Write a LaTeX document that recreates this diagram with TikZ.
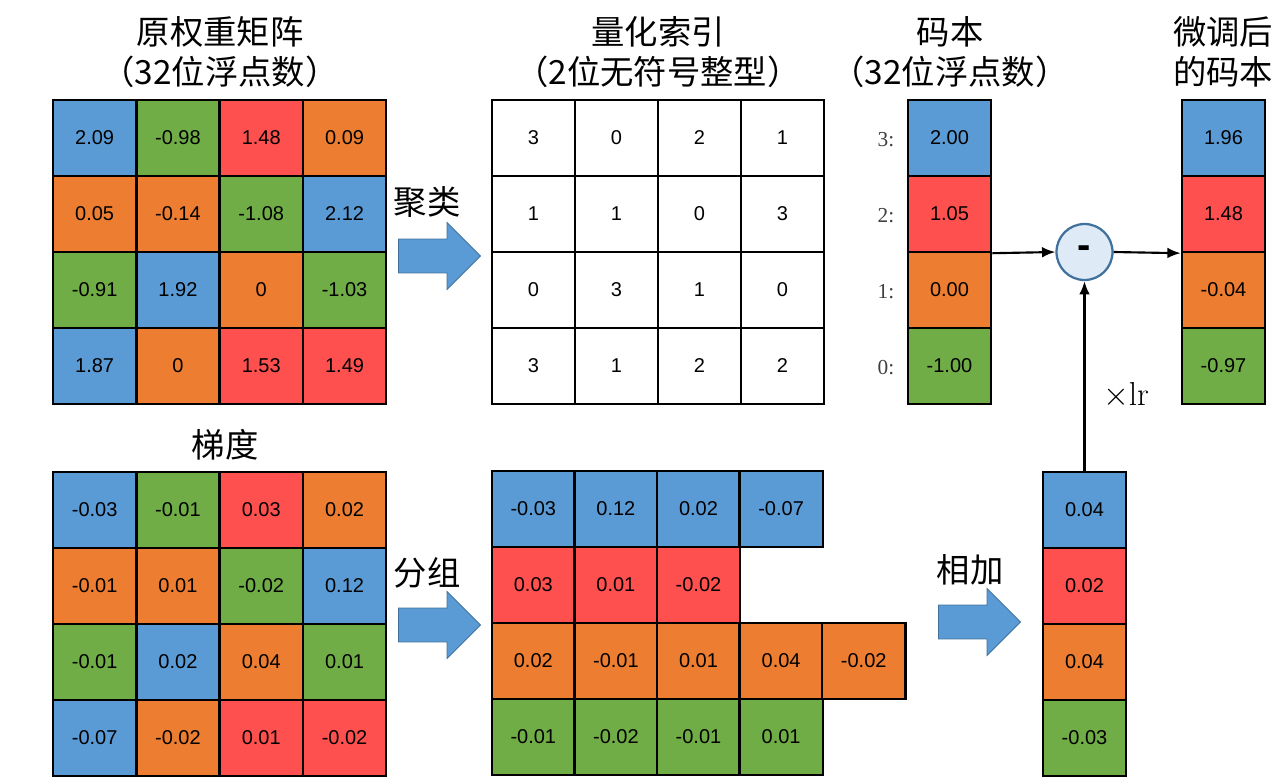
\documentclass[tikz,border=0pt]{standalone}
\usepackage[no-math]{fontspec}
\usepackage{tikz}
\setmainfont{Liberation Sans}
\newfontfamily\cjk{Noto Sans CJK SC}
\newfontfamily\idxfont{Liberation Serif}
\usetikzlibrary{arrows.meta,shapes.arrows}
\definecolor{cb}{HTML}{5B9BD5}
\definecolor{cg}{HTML}{70AD47}
\definecolor{cr}{HTML}{FF5050}
\definecolor{co}{HTML}{ED7D31}
\definecolor{edge}{HTML}{41719C}
\definecolor{opfill}{HTML}{DEEBF7}
\tikzset{
	cell/.style={draw=black, line width=1.8pt, minimum width=62.4pt, minimum height=57pt, inner sep=0pt, font=\fontsize{15}{15}\selectfont},
	title/.style={font=\cjk\fontsize{25}{30}\selectfont, inner sep=0pt},
	idx/.style={font=\idxfont\fontsize{16}{16}\selectfont, text=black!75, inner sep=0pt},
	blockarrow/.style={single arrow, draw=edge, fill=cb, line width=0.6pt, minimum height=61.5pt, minimum width=0pt, single arrow head extend=12.4pt, inner xsep=0pt, inner ysep=12.4pt},
	op/.style={circle, draw=edge, fill=opfill, line width=1.7pt, minimum size=42pt, inner sep=0pt, font=\bfseries\fontsize{30}{30}\selectfont},
	conn/.style={-{Latex[length=10pt,width=8pt]}, line width=1.6pt}
}

\begin{document}
\begin{tikzpicture}[x=0.75pt, y=-0.75pt]
	\useasboundingbox (0,0) rectangle (1278,782);
	% titles
	\node[title] (w-title) at (220,32) {原权重矩阵};
	\node[title] (w-unit) at (220,72) {（32位浮点数）};
	\node[title] (q-title) at (658,32) {量化索引};
	\node[title] (q-unit) at (658,72) {（2位无符号整型）};
	\node[title] (cb-title) at (950,32) {码本};
	\node[title] (cb-unit) at (950,72) {（32位浮点数）};
	\node[title] (ft-title) at (1223,32) {微调后};
	\node[title] (ft-unit) at (1223,72) {的码本};
	\node[title] (g-title) at (225,445) {梯度};
	% weight matrix
	\foreach \row [count=\r] in {{2.09/cb,-0.98/cg,1.48/cr,0.09/co},{0.05/co,-0.14/co,-1.08/cg,2.12/cb},{-0.91/cg,1.92/cb,0/co,-1.03/cg},{1.87/cb,0/co,1.53/cr,1.49/cr}}
		\foreach \v/\col [count=\c] in \row
			\node[cell, fill=\col] (w-\r-\c) at ({53+83.3*(\c-0.5)}, {100+76*(\r-0.5)}) {\v};
	% index matrix
	\foreach \row [count=\r] in {{3,0,2,1},{1,1,0,3},{0,3,1,0},{3,1,2,2}}
		\foreach \v [count=\c] in \row
			\node[cell, fill=white] (q-\r-\c) at ({492+83*(\c-0.5)}, {100+76*(\r-0.5)}) {\v};
	% codebook
	\foreach \v/\col/\k [count=\r] in {2.00/cb/3,1.05/cr/2,0.00/co/1,-1.00/cg/0}{
		\node[cell, fill=\col] (cb-\r) at (949.5, {100+76*(\r-0.5)}) {\v};
		\node[idx] (cb-lab-\r) at (886, {102+76*(\r-0.5)}) {\k:};
	}
	% fine-tuned codebook
	\foreach \v/\col [count=\r] in {1.96/cb,1.48/cr,-0.04/co,-0.97/cg}
		\node[cell, fill=\col] (ft-\r) at (1223.5, {100+76*(\r-0.5)}) {\v};
	% gradient matrix
	\foreach \row [count=\r] in {{-0.03/cb,-0.01/cg,0.03/cr,0.02/co},{-0.01/co,0.01/co,-0.02/cg,0.12/cb},{-0.01/cg,0.02/cb,0.04/co,0.01/cg},{-0.07/cb,-0.02/co,0.01/cr,-0.02/cr}}
		\foreach \v/\col [count=\c] in \row
			\node[cell, fill=\col] (g-\r-\c) at ({53+83.3*(\c-0.5)}, {472+76*(\r-0.5)}) {\v};
	% grouped gradients
	\foreach \row/\col [count=\r] in {{-0.03,0.12,0.02,-0.07}/cb,{0.03,0.01,-0.02}/cr,{0.02,-0.01,0.01,0.04,-0.02}/co,{-0.01,-0.02,-0.01,0.01}/cg}
		\foreach \v [count=\c] in \row
			\node[cell, fill=\col] (gg-\r-\c) at ({492+82.6*(\c-0.5)}, {471+76*(\r-0.5)}) {\v};
	% summed gradients
	\foreach \v/\col [count=\r] in {0.04/cb,0.02/cr,0.04/co,-0.03/cg}
		\node[cell, fill=\col] (sum-\r) at (1084.5, {472+76*(\r-0.5)}) {\v};
	% block arrows
	\node[blockarrow] (arr-cluster) at (431,256) {};
	\node[title] (lab-cluster) at (427,202) {聚类};
	\node[blockarrow] (arr-group) at (431,625) {};
	\node[title] (lab-group) at (427,573) {分组};
	\node[blockarrow] (arr-add) at (971,622) {};
	\node[title] (lab-add) at (970,570) {相加};
	% update
	\node[op] (minus) at (1084.5,252) {-};
	\draw[conn] (cb-2.south east) -- (minus.west);
	\draw[conn] (minus.east) -- (ft-2.south west);
	\draw[conn] (sum-1.north) -- (minus.south);
	\node[font=\fontsize{24}{24}\selectfont, inner sep=0pt] (lr) at (1126,395) {$\times\mathrm{lr}$};
\end{tikzpicture}
\end{document}
